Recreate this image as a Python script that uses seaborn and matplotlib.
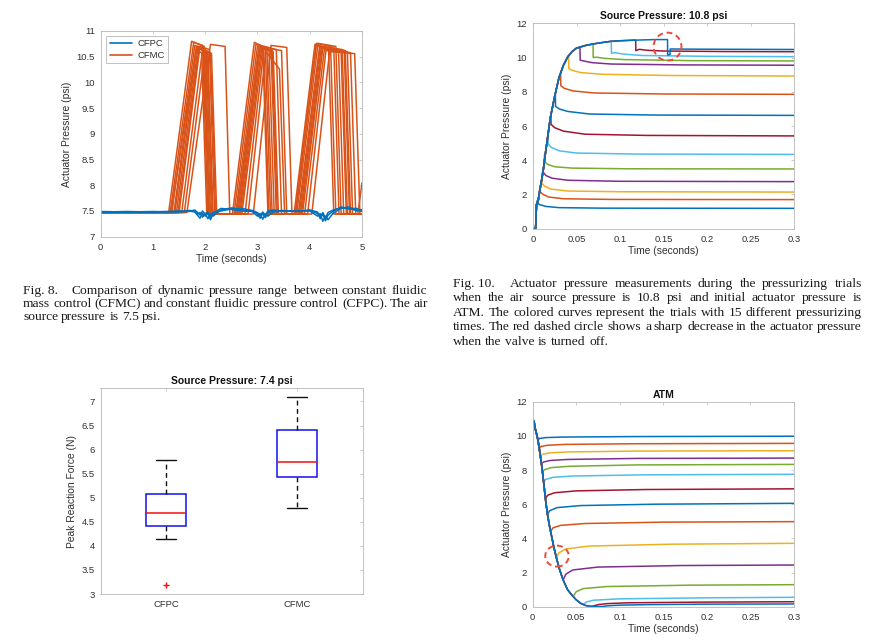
import numpy as np
import pandas as pd
import matplotlib
matplotlib.use("Agg")
import matplotlib.pyplot as plt
import seaborn as sns
from matplotlib.patches import Ellipse
from matplotlib.lines import Line2D
from matplotlib.ticker import FuncFormatter

# ---------------- colours (MATLAB default order) ----------------
M_BLUE, M_ORANGE, M_YELLOW, M_PURPLE = "#0072BD", "#D95319", "#EDB120", "#7E2F8E"
M_GREEN, M_LBLUE, M_DRED = "#77AC30", "#4DBEEE", "#A2142F"
TRIAL_COLORS = [M_BLUE, M_ORANGE, M_YELLOW, M_PURPLE, M_GREEN, M_LBLUE, M_DRED,
                M_BLUE, M_ORANGE, M_YELLOW, M_PURPLE, M_GREEN, M_LBLUE, M_DRED, M_BLUE]

# ---------------- Fig. 8 data (dynamic pressure range) ----------------
CFMC_EDGES = [  # (rise start, top reached, fall start, fall end) x 3 pulses
    [1.30, 1.74, 1.95, 2.05, 2.52, 2.94, 3.10, 3.20, 3.70, 4.10, 4.40, 4.50],
    [1.33, 1.78, 1.98, 2.08, 2.55, 2.97, 3.15, 3.25, 3.72, 4.13, 4.46, 4.56],
    [1.36, 1.80, 2.00, 2.10, 2.58, 3.00, 3.18, 3.28, 3.75, 4.16, 4.50, 4.60],
    [1.40, 1.83, 2.02, 2.12, 2.62, 3.03, 3.22, 3.32, 3.78, 4.19, 4.55, 4.65],
    [1.45, 1.86, 2.05, 2.15, 2.66, 3.06, 3.26, 3.36, 3.82, 4.22, 4.60, 4.70],
    [1.50, 1.90, 2.08, 2.18, 2.70, 3.10, 3.30, 3.40, 3.86, 4.25, 4.66, 4.76],
    [1.55, 1.95, 2.10, 2.20, 2.76, 3.13, 3.36, 3.46, 3.90, 4.28, 4.72, 4.82],
    [1.60, 2.00, 2.12, 2.22, 2.82, 3.16, 3.42, 3.52, 3.96, 4.31, 4.78, 4.88],
    [1.65, 2.10, 2.38, 2.47, 2.92, 3.26, 3.56, 3.66, 4.04, 4.38, 4.86, 4.96],
    [1.35, 1.82, 1.93, 2.03, 2.60, 3.02, 3.12, 3.22, 3.73, 4.12, 4.36, 4.46],
    [1.42, 1.84, 1.97, 2.07, 2.64, 3.04, 3.28, 3.38, 3.80, 4.20, 4.62, 4.72],
    [1.48, 1.88, 2.04, 2.14, 2.68, 3.08, 3.46, 3.56, 3.84, 4.24, 4.68, 4.78],
]
CFMC_TOPS = [  # (top start, top end) x 3 pulses
    [10.80, 10.72, 10.78, 10.70, 10.74, 10.66],
    [10.78, 10.70, 10.74, 10.68, 10.76, 10.68],
    [10.72, 10.66, 10.70, 10.64, 10.76, 10.70],
    [10.70, 10.62, 10.68, 10.62, 10.70, 10.64],
    [10.66, 10.60, 10.72, 10.66, 10.68, 10.62],
    [10.70, 10.64, 10.66, 10.60, 10.66, 10.62],
    [10.64, 10.58, 10.70, 10.64, 10.64, 10.60],
    [10.62, 10.56, 10.60, 10.26, 10.62, 10.58],
    [10.74, 10.70, 10.72, 10.68, 10.60, 10.56],
    [10.62, 10.58, 10.62, 10.58, 10.72, 10.66],
    [10.68, 10.62, 10.66, 10.62, 10.70, 10.64],
    [10.66, 10.60, 10.68, 10.62, 10.68, 10.62],
]
CFMC_BASE_START, CFMC_BASE_END = 7.47, 7.44
CFMC_TAIL_T = [4.92, 5.0]          # one trial starts rising again at the right edge
CFMC_TAIL_P = [7.44, 8.05]

CFPC_T = [0, 0.5, 1.0, 1.5, 1.7, 1.8, 1.85, 1.9, 1.95, 2.0, 2.05, 2.1, 2.15, 2.3, 2.5, 2.7,
          2.9, 3.0, 3.05, 3.1, 3.15, 3.2, 3.3, 3.5, 3.8, 4.0, 4.15, 4.2, 4.25, 4.3, 4.35,
          4.45, 4.6, 4.75, 4.9, 5.0]
CFPC_P = [
    [7.48, 7.49, 7.48, 7.49, 7.51, 7.50, 7.44, 7.47, 7.38, 7.46, 7.35, 7.44, 7.40, 7.52, 7.56, 7.52,
     7.50, 7.44, 7.36, 7.45, 7.37, 7.47, 7.50, 7.51, 7.49, 7.52, 7.48, 7.35, 7.44, 7.31, 7.42,
     7.50, 7.58, 7.54, 7.52, 7.50],
    [7.47, 7.48, 7.49, 7.48, 7.50, 7.48, 7.42, 7.36, 7.45, 7.40, 7.46, 7.33, 7.45, 7.55, 7.53, 7.50,
     7.49, 7.40, 7.45, 7.34, 7.44, 7.40, 7.48, 7.50, 7.50, 7.50, 7.40, 7.45, 7.30, 7.40, 7.33,
     7.46, 7.55, 7.58, 7.50, 7.53],
    [7.49, 7.48, 7.48, 7.50, 7.49, 7.52, 7.47, 7.42, 7.50, 7.43, 7.48, 7.39, 7.47, 7.50, 7.54, 7.55,
     7.51, 7.47, 7.40, 7.48, 7.42, 7.50, 7.52, 7.49, 7.50, 7.51, 7.45, 7.38, 7.47, 7.36, 7.47,
     7.52, 7.56, 7.55, 7.55, 7.49],
]

# ---------------- Fig. 10 data (pressurizing, source 10.8 psi) ----------------
RISE_T = [0, 0.003, 0.004, 0.006, 0.008, 0.010, 0.012, 0.014, 0.017, 0.020, 0.025, 0.030,
          0.035, 0.040, 0.045, 0.050, 0.060, 0.070, 0.080, 0.090, 0.100, 0.120, 0.140, 0.155]
RISE_P = [0, 0, 1.40, 1.65, 2.30, 2.85, 3.50, 4.30, 5.40, 6.50, 7.75, 8.85,
          9.55, 10.05, 10.35, 10.55, 10.70, 10.80, 10.88, 10.95, 10.98, 11.02, 11.05, 11.05]
PRESS_T = [
    [0.0045, 0.0047, 0.008, 0.015, 0.030, 0.080, 0.300],
    [0.0077, 0.0079, 0.011, 0.018, 0.035, 0.090, 0.300],
    [0.0096, 0.0098, 0.013, 0.020, 0.040, 0.100, 0.300],
    [0.0115, 0.0117, 0.015, 0.022, 0.040, 0.100, 0.300],
    [0.0134, 0.0136, 0.017, 0.025, 0.045, 0.110, 0.300],
    [0.0173, 0.0175, 0.021, 0.030, 0.050, 0.120, 0.300],
    [0.0205, 0.0207, 0.025, 0.035, 0.060, 0.130, 0.300],
    [0.0257, 0.0259, 0.030, 0.040, 0.065, 0.140, 0.300],
    [0.0318, 0.0320, 0.036, 0.046, 0.070, 0.150, 0.300],
    [0.0410, 0.0412, 0.045, 0.055, 0.080, 0.160, 0.300],
    [0.0540, 0.0542, 0.058, 0.068, 0.090, 0.170, 0.300],
    [0.0690, 0.0692, 0.073, 0.083, 0.105, 0.180, 0.300],
    [0.0900, 0.0902, 0.094, 0.104, 0.125, 0.200, 0.300],
    [0.1180, 0.1182, 0.122, 0.132, 0.150, 0.220, 0.300],
    [0.1546, 0.1548, 0.1575, 0.1578, 0.180, 0.240, 0.300],
]
PRESS_P = [
    [1.62, 1.50, 1.40, 1.30, 1.23, 1.20, 1.19],
    [2.30, 2.18, 2.02, 1.85, 1.75, 1.71, 1.70],
    [2.85, 2.68, 2.50, 2.32, 2.20, 2.16, 2.14],
    [3.50, 3.30, 3.10, 2.95, 2.83, 2.77, 2.75],
    [4.35, 3.90, 3.75, 3.62, 3.54, 3.50, 3.49],
    [5.45, 4.95, 4.75, 4.55, 4.42, 4.36, 4.34],
    [6.60, 6.10, 5.90, 5.70, 5.52, 5.45, 5.42],
    [7.85, 7.15, 7.00, 6.85, 6.70, 6.64, 6.62],
    [9.00, 8.35, 8.20, 8.05, 7.93, 7.87, 7.85],
    [10.10, 9.35, 9.25, 9.12, 9.02, 8.95, 8.92],
    [10.60, 9.85, 9.80, 9.70, 9.62, 9.57, 9.55],
    [10.80, 10.00, 10.02, 9.95, 9.88, 9.82, 9.80],
    [10.95, 10.25, 10.28, 10.20, 10.12, 10.07, 10.05],
    [11.02, 10.40, 10.48, 10.42, 10.38, 10.35, 10.34],
    [11.05, 10.15, 10.18, 10.50, 10.49, 10.48, 10.47],
]

# ---------------- ATM data (depressurizing) ----------------
FALL_T = [0, 0.0015, 0.003, 0.0045, 0.006, 0.0075, 0.009, 0.0105, 0.012, 0.0135, 0.015, 0.017,
          0.019, 0.021, 0.024, 0.027, 0.031, 0.035, 0.040, 0.045, 0.050, 0.055, 0.060, 0.065,
          0.075, 0.085]
FALL_P = [10.9, 10.85, 10.40, 10.10, 9.76, 9.27, 8.75, 8.20, 7.55, 6.85, 6.15, 5.40,
          4.80, 4.30, 3.55, 2.90, 2.15, 1.56, 1.00, 0.68, 0.40, 0.20, 0.08, 0.03,
          0.01, 0.02]
ATM_T = [
    [0.0060, 0.0080, 0.015, 0.035, 0.12, 0.30],
    [0.0075, 0.0095, 0.017, 0.037, 0.12, 0.30],
    [0.0088, 0.0110, 0.019, 0.040, 0.12, 0.30],
    [0.0100, 0.0125, 0.020, 0.040, 0.12, 0.30],
    [0.0112, 0.0135, 0.021, 0.042, 0.12, 0.30],
    [0.0125, 0.0150, 0.023, 0.045, 0.13, 0.30],
    [0.0146, 0.0170, 0.025, 0.050, 0.13, 0.30],
    [0.0170, 0.0195, 0.028, 0.055, 0.14, 0.30],
    [0.0205, 0.0235, 0.032, 0.060, 0.15, 0.30],
    [0.0272, 0.0300, 0.038, 0.065, 0.16, 0.30],
    [0.0350, 0.0380, 0.046, 0.075, 0.17, 0.30],
    [0.0465, 0.0500, 0.058, 0.085, 0.18, 0.30],
    [0.0580, 0.0620, 0.070, 0.100, 0.20, 0.30],
    [0.0680, 0.0750, 0.085, 0.110, 0.20, 0.30],
    [0.0800, 0.0850, 0.100, 0.130, 0.20, 0.30],
]
ATM_P = [
    [9.76, 9.85, 9.90, 9.93, 9.96, 9.98],
    [9.27, 9.38, 9.45, 9.50, 9.54, 9.56],
    [8.80, 8.92, 9.00, 9.06, 9.11, 9.13],
    [8.38, 8.47, 8.56, 8.62, 8.68, 8.70],
    [7.90, 8.02, 8.14, 8.22, 8.30, 8.33],
    [7.30, 7.45, 7.57, 7.65, 7.72, 7.75],
    [6.30, 6.52, 6.67, 6.78, 6.86, 6.90],
    [5.40, 5.62, 5.80, 5.92, 6.00, 6.05],
    [4.42, 4.62, 4.76, 4.87, 4.95, 4.98],
    [2.85, 3.15, 3.38, 3.55, 3.66, 3.71],
    [1.56, 1.90, 2.15, 2.32, 2.41, 2.44],
    [0.60, 0.88, 1.06, 1.18, 1.26, 1.29],
    [0.14, 0.28, 0.38, 0.46, 0.52, 0.55],
    [0.02, 0.12, 0.18, 0.23, 0.27, 0.29],
    [0.01, 0.05, 0.09, 0.12, 0.15, 0.16],
]

# ---------------- box plot data (peak reaction force) ----------------
BOX_GROUPS = ["CFPC", "CFMC"]
FORCE_CFPC = [3.18, 4.15, 4.42, 4.55, 4.68, 4.90, 5.08, 5.40, 5.78]
FORCE_CFMC = [4.78, 5.20, 5.44, 5.60, 5.74, 6.10, 6.41, 6.80, 7.09]

# ---------------- captions ----------------
CAP8 = ["Fig.\u00a08. Comparison of dynamic pressure range between constant fluidic",
        "mass control (CFMC) and constant fluidic pressure control (CFPC). The air",
        "source pressure is 7.5 psi."]
CAP10 = ["Fig.\u00a010. Actuator pressure measurements during the pressurizing trials",
         "when the air source pressure is 10.8 psi and initial actuator pressure is",
         "ATM. The colored curves represent the trials with 15 different pressurizing",
         "times. The red dashed circle shows a sharp decrease in the actuator pressure",
         "when the valve is turned off."]

# ================= figure =================
sns.set_style("white")
plt.rcParams["font.family"] = ["Liberation Sans", "DejaVu Sans"]
W, H = 892, 640
fig = plt.figure(figsize=(W / 100, H / 100), dpi=100)
fig.patch.set_facecolor("white")


def rect(l, t, r, b):
    return [l / W, 1 - b / H, (r - l) / W, (b - t) / H]


AX_EDGE = "#B8B8B8"
TXT = "#303030"
fmt = FuncFormatter(lambda v, p: f"{v:g}")


def style(ax, xfmt=True):
    ax.set_facecolor("white")
    for s in ax.spines.values():
        s.set_visible(True)
        s.set_color(AX_EDGE)
        s.set_linewidth(0.6)
    ax.tick_params(direction="in", length=2.5, width=0.5, colors=AX_EDGE,
                   labelcolor=TXT, labelsize=6.8, top=True, right=True, pad=4.2)
    if xfmt:
        ax.xaxis.set_major_formatter(fmt)
    ax.yaxis.set_major_formatter(fmt)


LABEL_KW = dict(fontsize=7.4, color=TXT)
TITLE_KW = dict(fontsize=7.5, fontweight="bold", color="#111111", pad=3)

# ---- Fig. 8 ----
axA = fig.add_axes(rect(100.7, 31, 362, 236.7))
rows = []
for i, (edges, tops) in enumerate(zip(CFMC_EDGES, CFMC_TOPS)):
    ts = [0.0]
    ps = [CFMC_BASE_START]
    for k in range(3):
        rs, rt, fs, fe = edges[4 * k:4 * k + 4]
        base = CFMC_BASE_START if k == 0 else CFMC_BASE_END
        ts += [rs, rt, fs, fe]
        ps += [base, tops[2 * k], tops[2 * k + 1], CFMC_BASE_END]
    if i == 0:
        ts += CFMC_TAIL_T
        ps += CFMC_TAIL_P
    else:
        ts += [5.0]
        ps += [CFMC_BASE_END]
    for t, p in zip(ts, ps):
        rows.append(("M%02d" % i, t, p))
for j, pv in enumerate(CFPC_P):
    for t, p in zip(CFPC_T, pv):
        rows.append(("P%02d" % j, t, p))
dfA = pd.DataFrame(rows, columns=["trial", "t", "p"])
palA = {k: (M_ORANGE if k.startswith("M") else M_BLUE) for k in dfA["trial"].unique()}
sns.lineplot(data=dfA, x="t", y="p", hue="trial", palette=palA, estimator=None,
             sort=False, legend=False, linewidth=1.1, ax=axA)
axA.set_xlim(0, 5)
axA.set_ylim(7, 11)
axA.set_xticks(np.arange(0, 5.01, 1))
axA.set_yticks(np.arange(7, 11.01, 0.5))
style(axA)
axA.set_xlabel("Time (seconds)", labelpad=1.5, **LABEL_KW)
axA.set_ylabel("Actuator Pressure (psi)", labelpad=3, **LABEL_KW)
handles = [Line2D([], [], color=M_BLUE, lw=1.2), Line2D([], [], color=M_ORANGE, lw=1.2)]
leg = axA.legend(handles, ["CFPC", "CFMC"], loc="upper left", bbox_to_anchor=(0.022, 0.975),
                 borderaxespad=0, fontsize=6.8, frameon=True, fancybox=False,
                 edgecolor="#AAAAAA", framealpha=1, handlelength=2.4, handletextpad=0.5,
                 borderpad=0.35, labelspacing=0.25)
leg.get_frame().set_linewidth(0.5)
for txt in leg.get_texts():
    txt.set_color(TXT)

# ---- Fig. 10 (pressurizing) ----
axB = fig.add_axes(rect(533, 23.3, 794, 228.7))
rows = []
for i, (tt, pp) in enumerate(zip(PRESS_T, PRESS_P)):
    cut = tt[0]
    for t, p in zip(RISE_T, RISE_P):
        if t < cut:
            rows.append((i, t, p))
    for t, p in zip(tt, pp):
        rows.append((i, t, p))
dfB = pd.DataFrame(rows, columns=["trial", "t", "p"])
sns.lineplot(data=dfB, x="t", y="p", hue="trial", palette=TRIAL_COLORS, estimator=None,
             sort=False, legend=False, linewidth=1.1, ax=axB)
axB.set_xlim(0, 0.3)
axB.set_ylim(0, 12)
axB.set_xticks(np.arange(0, 0.301, 0.05))
axB.set_yticks(np.arange(0, 12.1, 2))
style(axB)
axB.set_title("Source Pressure: 10.8 psi", **TITLE_KW)
axB.set_xlabel("Time (seconds)", labelpad=1.5, **LABEL_KW)
axB.set_ylabel("Actuator Pressure (psi)", labelpad=3, **LABEL_KW)
axB.add_patch(Ellipse((0.1546, 10.64), 0.032, 1.63, fill=False, edgecolor="#EE4B3B",
                      linewidth=1.4, linestyle=(0, (3, 2)), zorder=5))

# ---- box plot ----
axC = fig.add_axes(rect(100.5, 388, 362.5, 594))
dfC = pd.DataFrame({"group": ["CFPC"] * len(FORCE_CFPC) + ["CFMC"] * len(FORCE_CFMC),
                    "force": FORCE_CFPC + FORCE_CFMC})
sns.boxplot(data=dfC, x="group", y="force", order=BOX_GROUPS, width=0.3, color="white",
            linecolor="#1010F0", linewidth=1.1, whis=1.5, ax=axC,
            boxprops=dict(facecolor="white", edgecolor="#1010F0", linewidth=1.1),
            medianprops=dict(color="#F01010", linewidth=1.1),
            whiskerprops=dict(color="#111111", linestyle=(0, (3.5, 2.5)), linewidth=1.0),
            capprops=dict(color="#111111", linewidth=1.0),
            flierprops=dict(marker="+", markeredgecolor="#F01010", markersize=4.5,
                            markeredgewidth=1.0))
axC.set_xlim(-0.5, 1.5)
axC.set_ylim(3, 7.28)
axC.set_yticks(np.arange(3, 7.01, 0.5))
style(axC, xfmt=False)
axC.set_xticks([0, 1])
axC.set_xticklabels(BOX_GROUPS)
axC.set_xlabel("")
axC.set_ylabel("Peak Reaction Force (N)", labelpad=3, **LABEL_KW)
axC.set_title("Source Pressure: 7.4 psi", **TITLE_KW)

# ---- ATM (depressurizing) ----
axD = fig.add_axes(rect(532.7, 401.7, 794, 606.7))
rows = []
for i, (tt, pp) in enumerate(zip(ATM_T, ATM_P)):
    cut = tt[0]
    for t, p in zip(FALL_T, FALL_P):
        if t < cut:
            rows.append((i, t, p))
    for t, p in zip(tt, pp):
        rows.append((i, t, p))
dfD = pd.DataFrame(rows, columns=["trial", "t", "p"])
sns.lineplot(data=dfD, x="t", y="p", hue="trial", palette=TRIAL_COLORS, estimator=None,
             sort=False, legend=False, linewidth=1.1, ax=axD)
axD.set_xlim(0, 0.3)
axD.set_ylim(0, 12)
axD.set_xticks(np.arange(0, 0.301, 0.05))
axD.set_yticks(np.arange(0, 12.1, 2))
style(axD)
axD.set_title("ATM", **TITLE_KW)
axD.set_xlabel("Time (seconds)", labelpad=1.5, **LABEL_KW)
axD.set_ylabel("Actuator Pressure (psi)", labelpad=3, **LABEL_KW)
axD.add_patch(Ellipse((0.0279, 2.96), 0.027, 1.23, fill=False, edgecolor="#EE4B3B",
                      linewidth=1.4, linestyle=(0, (3, 2)), zorder=5))

# ---- justified captions ----
SERIF = ["Liberation Serif", "DejaVu Serif"]
renderer = fig.canvas.get_renderer()


def caption(lines, x0, x1, baselines, fs, lead_gap):
    space = fs * 100 / 72 * 0.25
    for li, (line, yb) in enumerate(zip(lines, baselines)):
        words = line.split(" ")
        widths = []
        for w in words:
            tmp = fig.text(0, 0, w, fontsize=fs, family=SERIF)
            widths.append(tmp.get_window_extent(renderer).width)
            tmp.remove()
        extra = [lead_gap if (li == 0 and k == 0) else 0 for k in range(len(words) - 1)]
        if li == len(lines) - 1:
            gap = space
        else:
            gap = (x1 - x0 - sum(widths) - sum(extra)) / (len(words) - 1)
        x = x0
        for k, w in enumerate(words):
            fig.text(round(x) / W, 1 - yb / H, w, fontsize=fs, family=SERIF, color="#1A1A1A",
                     ha="left", va="baseline")
            x += widths[k] + gap + (extra[k] if k < len(extra) else 0)


caption(CAP8, 23, 428, [294.2, 307.2, 320.2], 9.7, 9)
caption(CAP10, 453, 862, [287.2, 301.2, 316.2, 330.2, 345.2], 9.7, 9)

fig.savefig("out.png", dpi=100, facecolor="white")
